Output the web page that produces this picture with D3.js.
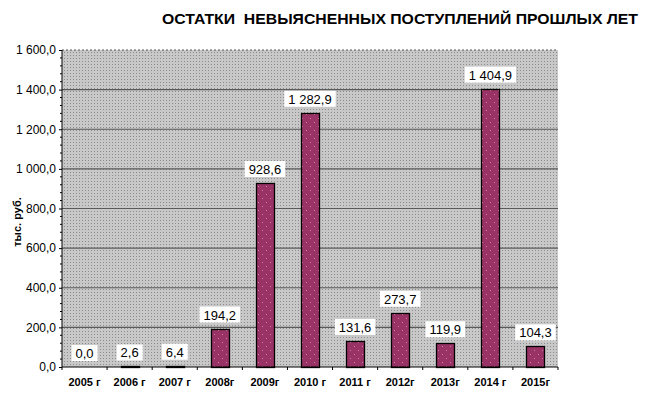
<!DOCTYPE html>
<html><head><meta charset="utf-8">
<script src="https://cdn.jsdelivr.net/npm/d3@7"></script>
<style>body{margin:0;background:#fff}svg{display:block}</style>
</head><body>
<svg id="c" width="646" height="394"></svg>
<script>
const categories = ["2005 г","2006 г","2007 г","2008г","2009г","2010 г","2011 г","2012г","2013г","2014 г","2015г"];
const values = [0.0, 2.6, 6.4, 194.2, 928.6, 1282.9, 131.6, 273.7, 119.9, 1404.9, 104.3];
const yTicks = [0, 200, 400, 600, 800, 1000, 1200, 1400, 1600];
const title = "ОСТАТКИ  НЕВЫЯСНЕННЫХ ПОСТУПЛЕНИЙ ПРОШЛЫХ ЛЕТ";
const yTitle = "тыс. руб.";

const svg = d3.select("#c");
const m = {l:62, r:558, t:50, b:367};
const font = "'Liberation Sans', Arial, sans-serif";
const fmt = v => {
  const s = v.toFixed(1).replace(".", ",");
  const [ip, dp] = s.split(",");
  return ip.replace(/\B(?=(\d{3})+(?!\d))/g, " ") + "," + dp;
};

const defs = svg.append("defs");
const bg = defs.append("pattern").attr("id","bgp").attr("width",3).attr("height",3).attr("patternUnits","userSpaceOnUse");
bg.append("rect").attr("width",3).attr("height",3).attr("fill","#c8c8c8");
bg.append("rect").attr("x",1).attr("y",1).attr("width",1).attr("height",1).attr("fill","#8c8c8c");
const bp = defs.append("pattern").attr("id","barp").attr("width",8).attr("height",8).attr("patternUnits","userSpaceOnUse");
bp.append("rect").attr("width",8).attr("height",8).attr("fill","#993366");
bp.append("rect").attr("x",2).attr("y",2).attr("width",1).attr("height",1).attr("fill","#d080a8");
bp.append("rect").attr("x",6).attr("y",6).attr("width",1).attr("height",1).attr("fill","#d080a8");

const x = d3.scaleBand().domain(categories).range([m.l, m.r]).paddingInner(0.6).paddingOuter(0.3);
const y = d3.scaleLinear().domain([0, 1600]).range([m.b, m.t]);

svg.append("rect").attr("x", m.l).attr("y", m.t).attr("width", m.r - m.l).attr("height", m.b - m.t).attr("fill","url(#bgp)");

svg.append("g").selectAll("line").data(yTicks.filter(d => d > 0 && d < 1600)).join("line")
  .attr("x1", m.l).attr("x2", m.r).attr("y1", d => y(d)).attr("y2", d => y(d))
  .attr("stroke", "#5a5a5a").attr("stroke-width", 1.1);
svg.append("line").attr("x1", m.l).attr("x2", m.r).attr("y1", y(1600)).attr("y2", y(1600))
  .attr("stroke","#555").attr("stroke-dasharray","2,2");

svg.append("g").selectAll("rect").data(values).join("rect")
  .attr("x", (d,i) => Math.round(x(categories[i])) + 0.5)
  .attr("y", d => Math.round(y(d)) + 0.5)
  .attr("width", Math.round(x.bandwidth()))
  .attr("height", d => Math.max(0, Math.round(y(0)) - Math.round(y(d))))
  .attr("fill","url(#barp)").attr("stroke","#000").attr("stroke-width",1.3);

const ya = d3.axisLeft(y).tickValues(yTicks).tickSize(3).tickFormat(fmt);
const gy = svg.append("g").attr("transform", `translate(${m.l},0)`).call(ya);
gy.select(".domain").attr("stroke","#000").attr("d", `M0,${m.t}V${m.b}`);
gy.selectAll("text").attr("font-family", font).attr("font-size", 12).attr("fill","#000").attr("x", -6);
const minor = d3.range(0, 1601, 40).filter(d => d % 200 !== 0);
svg.append("g").selectAll("line").data(minor).join("line")
  .attr("x1", m.l - 2).attr("x2", m.l).attr("y1", d => y(d)).attr("y2", d => y(d))
  .attr("stroke","#000");

const gx = svg.append("g").attr("transform", `translate(0,${m.b})`);
gx.append("line").attr("x1", m.l).attr("x2", m.r).attr("stroke","#000");
gx.selectAll("line.t").data(d3.range(categories.length + 1)).join("line").attr("class","t")
  .attr("x1", i => m.l + i * (m.r - m.l) / categories.length)
  .attr("x2", i => m.l + i * (m.r - m.l) / categories.length)
  .attr("y1", 0).attr("y2", 3).attr("stroke","#000");
gx.selectAll("text").data(categories).join("text")
  .attr("x", d => x(d) + x.bandwidth()/2).attr("y", 19)
  .attr("text-anchor","middle").attr("font-family", font).attr("font-size", 11).attr("font-weight","bold")
  .text(d => d);

const lg = svg.append("g");
values.forEach((v, i) => {
  const cx = x(categories[i]) + x.bandwidth()/2;
  const t = lg.append("text").attr("x", cx).attr("y", y(v) - 9)
    .attr("text-anchor","middle").attr("font-family", font).attr("font-size", 13).attr("fill","#000").text(fmt(v));
  const bb = t.node().getBBox();
  lg.insert("rect", "text").attr("x", bb.x - 4).attr("y", y(v) - 22).attr("width", bb.width + 8).attr("height", 16).attr("fill","#fff");
});

svg.append("text").attr("x", 162).attr("y", 24).attr("font-family", font).attr("font-size", 14).attr("font-weight","bold")
  .attr("textLength", 476).attr("lengthAdjust","spacingAndGlyphs").style("white-space","pre").text(title);

svg.append("text").attr("transform", "translate(21,222) rotate(-90)").attr("text-anchor","middle")
  .attr("font-family", font).attr("font-size", 11).attr("font-weight","bold").text(yTitle);
</script>
</body></html>
